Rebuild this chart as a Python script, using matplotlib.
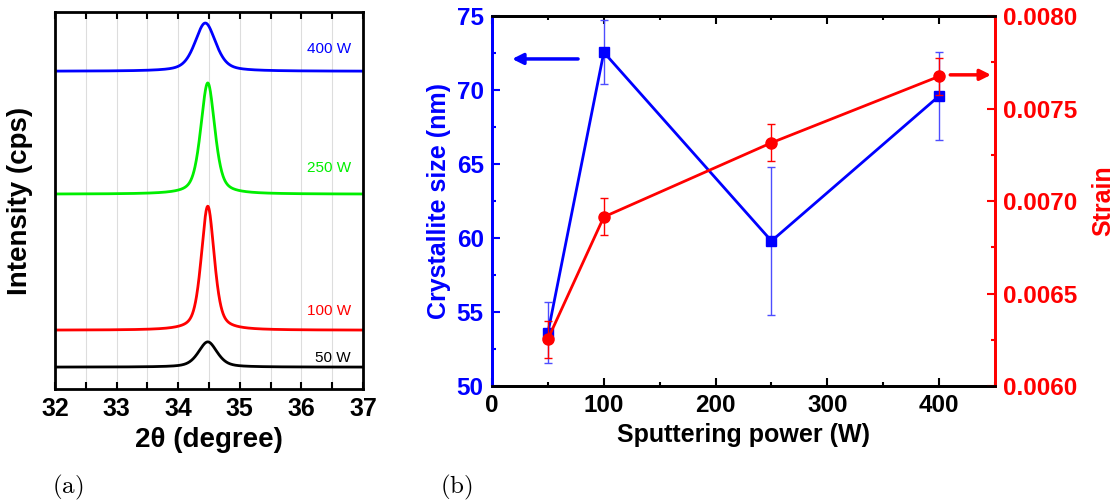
import numpy as np
import matplotlib
matplotlib.use("Agg")
import matplotlib.pyplot as plt
from matplotlib.ticker import MultipleLocator, FormatStrFormatter

plt.rcParams["font.family"] = ["Liberation Sans", "DejaVu Sans"]
plt.rcParams["mathtext.fontset"] = "cm"

# (a) XRD peaks: label, colour, baseline, height, centre, fwhm
xrd_labels = ["50 W", "100 W", "250 W", "400 W"]
xrd_colors = ["black", "red", "#00ee00", "blue"]
xrd_baseline = [58, 156, 517, 843]
xrd_height = [67, 329, 295, 128]
xrd_center = [34.48, 34.48, 34.48, 34.44]
xrd_fwhm = [0.36, 0.25, 0.27, 0.40]
xrd_label_y = [82, 207, 586, 902]

# (b) sputtering power series
power = [50, 100, 250, 400]
size_nm = [53.6, 72.55, 59.8, 69.6]
size_err = [2.05, 2.15, 5.0, 3.0]
strain = [0.006254, 0.006914, 0.007315, 0.007674]
strain_err = [0.0001, 0.0001, 0.0001, 0.0001]


def profile(x, x0, h, fwhm, eta=0.5):
    hw = fwhm / 2
    lor = 1 / (1 + ((x - x0) / hw) ** 2)
    gau = np.exp(-np.log(2) * ((x - x0) / hw) ** 2)
    return h * (eta * lor + (1 - eta) * gau)


fig = plt.figure(figsize=(11.15, 5.04), dpi=100)

# ---------- panel (a) ----------
ax = fig.add_axes([0.0493, 0.2282, 0.2763, 0.7478])
theta = np.linspace(32, 37, 1200)
for lab, c, b, h, x0, w, ly in zip(xrd_labels, xrd_colors, xrd_baseline,
                                    xrd_height, xrd_center, xrd_fwhm, xrd_label_y):
    ax.plot(theta, b + profile(theta, x0, h, w), color=c, lw=2)
    ax.text(36.8, ly, lab, color=c, fontsize=11, ha="right", va="center")

ax.set_xlim(32, 37)
ax.set_ylim(0, 1000)
ax.set_yticks([])
ax.xaxis.set_major_locator(MultipleLocator(1))
ax.xaxis.set_minor_locator(MultipleLocator(0.5))
ax.grid(True, which="both", axis="x", color="#dddddd", lw=0.8)
ax.tick_params(axis="x", which="both", direction="in", top=True, length=5,
               width=1.5, labelsize=18, pad=6)
for t in ax.get_xticklabels():
    t.set_fontweight("bold")
for s in ax.spines.values():
    s.set_linewidth(2)
ax.set_xlabel("2θ (degree)", fontsize=20, fontweight="bold", labelpad=4)
ax.set_ylabel("Intensity (cps)", fontsize=20, fontweight="bold")
ax.yaxis.set_label_coords(-0.07, 0.5)

# ---------- panel (b) ----------
bx = fig.add_axes([0.4413, 0.2341, 0.4511, 0.7341])
bx.errorbar(power, size_nm, yerr=size_err, color="blue", lw=2, marker="s",
            ms=7, ecolor="#4d4dff", elinewidth=1, capsize=3, capthick=1)
bx.set_xlim(0, 450)
bx.set_ylim(50, 75)
bx.xaxis.set_major_locator(MultipleLocator(100))
bx.xaxis.set_minor_locator(MultipleLocator(50))
bx.yaxis.set_major_locator(MultipleLocator(5))
bx.yaxis.set_minor_locator(MultipleLocator(2.5))
bx.tick_params(axis="x", which="major", direction="in", top=True, length=6,
               width=1.5, labelsize=17.5, pad=6)
bx.tick_params(axis="x", which="minor", direction="in", top=True, length=3, width=1.5)
bx.tick_params(axis="y", which="major", direction="in", length=6, width=1.5,
               labelsize=17.5, colors="blue", pad=6)
bx.tick_params(axis="y", which="minor", direction="in", length=3, width=1.5,
               colors="blue")
bx.set_xlabel("Sputtering power (W)", fontsize=18, fontweight="bold", labelpad=4)
bx.set_ylabel("Crystallite size (nm)", fontsize=18, fontweight="bold",
              color="blue", labelpad=4)

cx = bx.twinx()
cx.errorbar(power, strain, yerr=strain_err, color="red", lw=2, marker="o",
            ms=8, ecolor="red", elinewidth=1, capsize=3, capthick=1)
cx.set_ylim(0.0060, 0.0080)
cx.yaxis.set_major_locator(MultipleLocator(0.0005))
cx.yaxis.set_minor_locator(MultipleLocator(0.00025))
cx.yaxis.set_major_formatter(FormatStrFormatter("%.4f"))
cx.tick_params(axis="y", which="major", direction="in", length=6, width=1.5,
               labelsize=17.5, colors="red", pad=6)
cx.tick_params(axis="y", which="minor", direction="in", length=3, width=1.5,
               colors="red")
cx.set_ylabel("Strain", fontsize=18, fontweight="bold", color="red", labelpad=10)

for a in (bx, cx):
    for s in a.spines.values():
        s.set_linewidth(2)
    for t in a.get_xticklabels() + a.get_yticklabels():
        t.set_fontweight("bold")
cx.spines["left"].set_color("blue")
cx.spines["right"].set_color("red")
bx.spines["left"].set_color("blue")
bx.spines["right"].set_color("red")

bx.annotate("", xy=(0.040, 0.884), xytext=(0.171, 0.884), xycoords="axes fraction",
            arrowprops=dict(arrowstyle="-|>", color="blue", lw=2.5, mutation_scale=16,
                            shrinkA=0, shrinkB=0))
cx.annotate("", xy=(0.992, 0.841), xytext=(0.911, 0.841), xycoords="axes fraction",
            arrowprops=dict(arrowstyle="-|>", color="red", lw=2.5, mutation_scale=16,
                            shrinkA=0, shrinkB=0),
            annotation_clip=False)

fig.text(0.061, 0.033, r"$\mathrm{(a)}$", fontsize=18, ha="center", va="center")
fig.text(0.4097, 0.033, r"$\mathrm{(b)}$", fontsize=18, ha="center", va="center")

fig.savefig("out.png", dpi=100)
